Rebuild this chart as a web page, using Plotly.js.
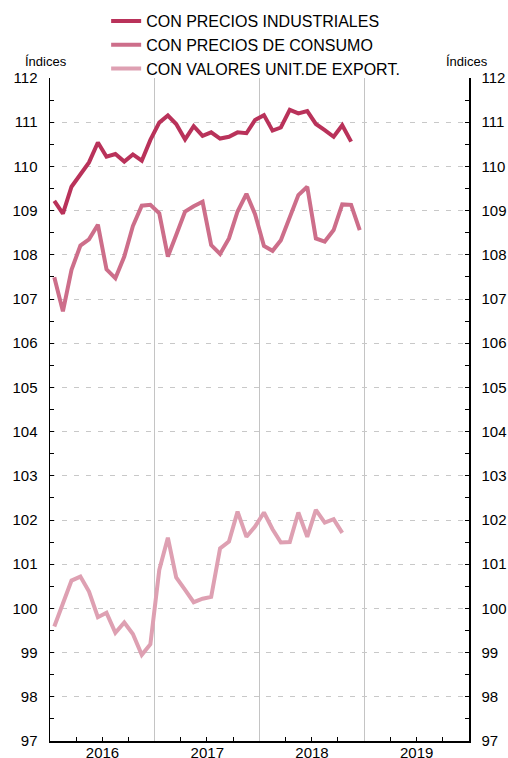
<!DOCTYPE html>
<html>
<head>
<meta charset="utf-8">
<script src="https://cdn.plot.ly/plotly-3.0.1.min.js"></script>
<style>html,body{margin:0;padding:0;background:#fff;}#chart{width:508px;height:758px;}</style>
</head>
<body>
<div id="chart"></div>
<script>
const months = [
  "2016-01-16","2016-02-15","2016-03-16","2016-04-16","2016-05-16","2016-06-16",
  "2016-07-16","2016-08-16","2016-09-16","2016-10-16","2016-11-16","2016-12-16",
  "2017-01-16","2017-02-15","2017-03-16","2017-04-16","2017-05-16","2017-06-16",
  "2017-07-16","2017-08-16","2017-09-16","2017-10-16","2017-11-16","2017-12-16",
  "2018-01-16","2018-02-15","2018-03-16","2018-04-16","2018-05-16","2018-06-16",
  "2018-07-16","2018-08-16","2018-09-16","2018-10-16","2018-11-16","2018-12-16"
];
const seriesNames = ["CON PRECIOS INDUSTRIALES","CON PRECIOS DE CONSUMO","CON VALORES UNIT.DE EXPORT."];
const industriales = [109.22,108.93,109.54,109.84,110.09,110.54,110.22,110.28,110.11,110.27,110.13,110.60,
  110.99,111.15,110.96,110.61,110.91,110.69,110.77,110.63,110.67,110.77,110.75,111.05,
  111.16,110.81,110.88,111.28,111.20,111.25,110.96,110.82,110.67,110.93,110.56];
const consumo = [107.49,106.72,107.66,108.21,108.35,108.68,107.67,107.47,107.96,108.65,109.11,109.13,
  108.94,107.96,108.45,108.98,109.10,109.20,108.22,108.02,108.37,108.98,109.38,108.92,
  108.20,108.09,108.33,108.86,109.35,109.54,108.37,108.30,108.56,109.14,109.13,108.56];
const exportacion = [99.59,100.11,100.63,100.72,100.38,99.80,99.90,99.45,99.68,99.42,98.95,99.19,
  100.87,101.60,100.70,100.42,100.14,100.22,100.26,101.36,101.51,102.19,101.62,101.85,
  102.17,101.79,101.49,101.50,102.17,101.62,102.23,101.94,102.02,101.71];
const xRange = ["2016-01-01","2020-01-01"];
const yTickVals = [97,98,99,100,101,102,103,104,105,106,107,108,109,110,111,112];

const colors = ["#b9325a","#cd6e8a","#dea0b2"];
const allSeries = [industriales, consumo, exportacion];

const traces = allSeries.map((vals, i) => ({
  x: months.slice(0, vals.length),
  y: vals,
  name: seriesNames[i],
  type: "scatter",
  mode: "lines",
  line: {color: colors[i], width: 4},
  hoverinfo: "skip"
}));
// invisible trace to activate right axis
traces.push({x: [months[0]], y: [yTickVals[0]], yaxis: "y2", mode: "markers",
  marker: {opacity: 0}, showlegend: false, hoverinfo: "skip"});

const font = {family: "Liberation Sans, Arial, sans-serif", color: "#000"};
const yCommon = {
  range: [97, 112], tickvals: yTickVals, ticktext: yTickVals.map(String),
  ticks: "inside", ticklen: 4, tickcolor: "#000", tickwidth: 1,
  minor: {dtick: 0.5, tick0: 97, ticks: "inside", ticklen: 4, tickcolor: "#000", showgrid: false},
  showline: true, linecolor: "#000", linewidth: 1.5,
  tickfont: Object.assign({size: 15}, font), ticklabelstandoff: 8, fixedrange: true,
  zeroline: false
};

const layout = {
  width: 508, height: 758,
  margin: {l: 50, r: 39, t: 78, b: 17, autoexpand: false},
  paper_bgcolor: "#fff", plot_bgcolor: "#fff",
  font: font,
  showlegend: true,
  legend: {x: 0.134, xanchor: "left", y: 1.1116, yanchor: "top",
    font: Object.assign({size: 16}, font), tracegroupgap: 0, bgcolor: "rgba(0,0,0,0)"},
  xaxis: {
    type: "date", range: xRange,
    dtick: "M12", tick0: "2016-01-01", tickformat: "%Y",
    ticklabelmode: "period",
    ticks: "", showgrid: true, gridcolor: "#c4c4c4", gridwidth: 1,
    minor: {dtick: "M3", tick0: "2016-01-01", ticks: "inside", ticklen: 4, tickcolor: "#000", showgrid: false},
    showline: true, linecolor: "#000", linewidth: 1.5,
    tickfont: Object.assign({size: 15}, font), ticklabelstandoff: -3, fixedrange: true
  },
  yaxis: Object.assign({}, yCommon, {side: "left", showgrid: true, gridcolor: "#c8c8c8", griddash: "5px,7px", gridwidth: 1}),
  yaxis2: Object.assign({}, yCommon, {side: "right", overlaying: "y", showgrid: false}),
  annotations: [
    {text: "Índices", xref: "paper", yref: "paper", x: -0.01, y: 1, yshift: 7, xanchor: "center", yanchor: "bottom",
      showarrow: false, font: Object.assign({size: 13}, font)},
    {text: "Índices", xref: "paper", yref: "paper", x: 0.995, y: 1, yshift: 7, xanchor: "center", yanchor: "bottom",
      showarrow: false, font: Object.assign({size: 13}, font)}
  ]
};

Plotly.newPlot("chart", traces, layout, {displayModeBar: false, staticPlot: true});
</script>
</body>
</html>
